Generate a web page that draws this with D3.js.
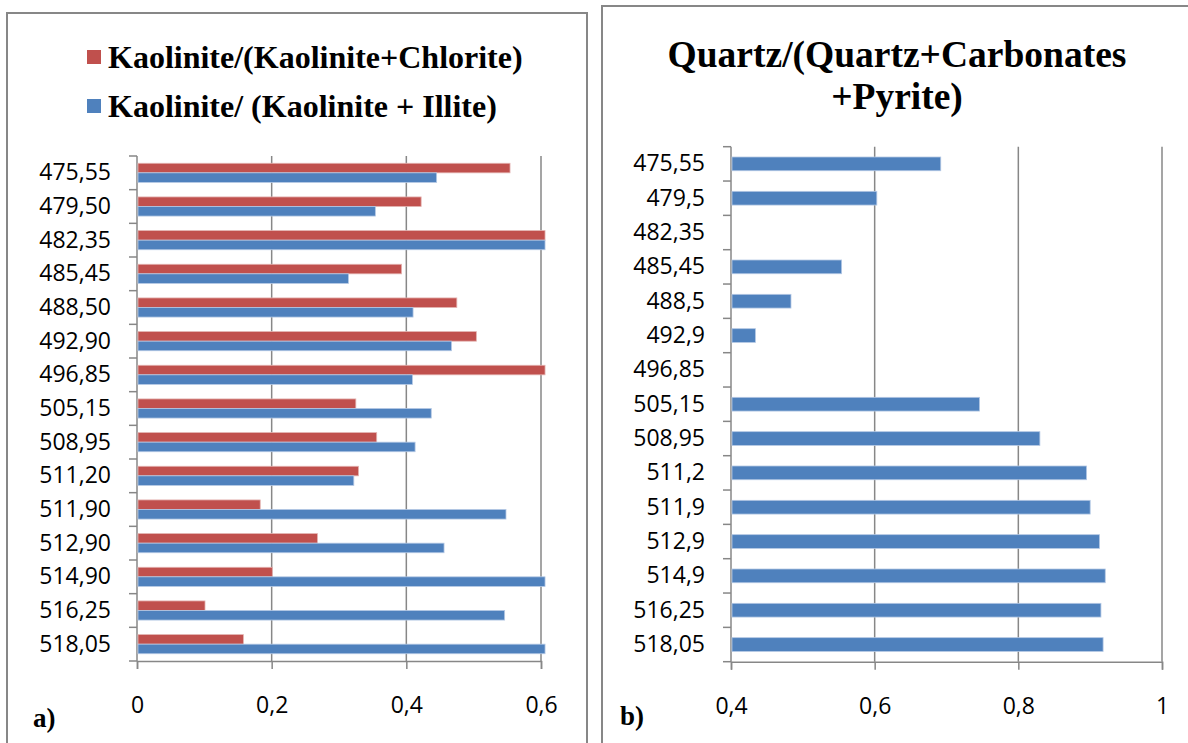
<!DOCTYPE html>
<html>
<head>
<meta charset="utf-8">
<script src="https://cdn.jsdelivr.net/npm/d3@7"></script>
<style>
  body { margin: 0; background: #fff; }
  svg { display: block; }
  .cat text, .val text { font-family: "Open Sans", sans-serif; font-size: 23px; fill: #000; }
  .serif { font-family: "Liberation Serif", "Times New Roman", serif; font-weight: bold; fill: #000; }
</style>
</head>
<body>
<svg id="chart" width="1188" height="743"></svg>
<script>
// panel a) depth labels and the two kaolinite ratios
var depthsA = ["475,55","479,50","482,35","485,45","488,50","492,90","496,85","505,15",
               "508,95","511,20","511,90","512,90","514,90","516,25","518,05"];
var kaolChlorite = [0.554,0.422,0.606,0.393,0.475,0.504,0.606,0.325,0.356,0.329,0.183,0.268,0.201,0.101,0.158];
var kaolIllite   = [0.445,0.354,0.606,0.314,0.410,0.467,0.409,0.437,0.413,0.322,0.548,0.456,0.606,0.546,0.606];
var seriesNames  = ["Kaolinite/(Kaolinite+Chlorite)", "Kaolinite/ (Kaolinite + Illite)"];
var ticksA = [0, 0.2, 0.4, 0.6];

// panel b) quartz ratio, empty where no bar is drawn
var depthsB = ["475,55","479,5","482,35","485,45","488,5","492,9","496,85","505,15",
               "508,95","511,2","511,9","512,9","514,9","516,25","518,05"];
var quartzRatio = [0.692,0.603,null,0.554,0.4835,0.434,null,0.746,0.830,0.895,0.900,0.913,0.921,0.915,0.918];
var titleB = ["Quartz/(Quartz+Carbonates", "+Pyrite)"];
var ticksB = [0.4, 0.6, 0.8, 1];

var RED = "#C0504D", BLUE = "#4F81BD", GRID = "#878787";
var fmt = d3.formatLocale({decimal: ",", thousands: ".", grouping: [3], currency: ["", ""]}).format("");

var svg = d3.select("#chart");

// panel frames
svg.append("rect").attr("x", 7).attr("y", 13).attr("width", 580).attr("height", 760)
  .attr("fill", "none").attr("stroke", GRID).attr("stroke-width", 2);
svg.append("rect").attr("x", 602).attr("y", 6).attr("width", 620).attr("height", 760)
  .attr("fill", "none").attr("stroke", GRID).attr("stroke-width", 2);

function drawFrame(g, x, y, ticks, cats){
  var r = x.range(), yr = y.range();
  // vertical gridlines
  g.selectAll(".grid").data(ticks.slice(1)).join("line")
    .attr("x1", d => x(d)).attr("x2", d => x(d))
    .attr("y1", yr[0]).attr("y2", yr[1])
    .attr("stroke", GRID).attr("stroke-width", 1.5);
  // x axis
  var ax = g.append("g").attr("class", "val").attr("transform", "translate(0," + yr[1] + ")")
    .call(d3.axisBottom(x).tickValues(ticks).tickFormat(fmt).tickSize(8).tickPadding(28));
  ax.select(".domain").attr("stroke", GRID).attr("stroke-width", 1.5);
  ax.selectAll(".tick line").attr("stroke", GRID).attr("stroke-width", 1.5);
  // y axis labels
  var ay = g.append("g").attr("class", "cat").attr("transform", "translate(" + r[0] + ",0)")
    .call(d3.axisLeft(y).tickSize(0).tickPadding(26));
  ay.select(".domain").remove();
  // y axis line and boundary ticks
  g.append("line").attr("x1", r[0]).attr("x2", r[0]).attr("y1", yr[0]).attr("y2", yr[1])
    .attr("stroke", GRID).attr("stroke-width", 1.5);
  var bounds = cats.map(c => y(c)).concat([yr[1]]);
  g.selectAll(".ytick").data(bounds).join("line")
    .attr("x1", r[0] - 8).attr("x2", r[0]).attr("y1", d => d).attr("y2", d => d)
    .attr("stroke", GRID).attr("stroke-width", 1.5);
}

// ---- panel a)
var xA = d3.scaleLinear().domain([0, 0.6]).range([137, 541]);
var yA = d3.scaleBand().domain(depthsA).range([156, 661]);
var sub = d3.scaleBand().domain([0, 1]).range([0, yA.bandwidth()]).paddingOuter(0.76);
var gA = svg.append("g");
drawFrame(gA, xA, yA, ticksA, depthsA);

var rowsA = depthsA.map((d, i) => ({depth: d, vals: [kaolChlorite[i], kaolIllite[i]]}));
gA.selectAll(".row").data(rowsA).join("g")
  .attr("transform", d => "translate(0," + yA(d.depth) + ")")
  .selectAll("rect").data(d => d.vals.map((v, k) => ({v: v, k: k}))).join("rect")
  .attr("x", xA(0) + 1)
  .attr("y", d => sub(d.k))
  .attr("width", d => xA(d.v) - xA(0) - 1)
  .attr("height", sub.bandwidth())
  .attr("fill", d => d.k === 0 ? RED : BLUE)
  .attr("stroke", d => d.k === 0 ? "#e3b3b1" : "#b4c8e4")
  .attr("stroke-width", 0.8);

// legend
var leg = svg.append("g");
seriesNames.forEach(function(name, i){
  var yy = 57 + i * 49;
  leg.append("rect").attr("x", 87).attr("y", yy - 7).attr("width", 14).attr("height", 14)
    .attr("fill", i === 0 ? RED : BLUE);
  leg.append("text").attr("class", "serif").attr("x", 108).attr("y", yy + 11)
    .attr("font-size", 32).text(name);
});
svg.append("text").attr("class", "serif").attr("x", 33).attr("y", 727).attr("font-size", 27).text("a)");

// ---- panel b)
var xB = d3.scaleLinear().domain([0.4, 1]).range([731, 1162]);
var yB = d3.scaleBand().domain(depthsB).range([146.7, 661.7]);
var gB = svg.append("g");
drawFrame(gB, xB, yB, ticksB, depthsB);

var rowsB = depthsB.map((d, i) => ({depth: d, v: quartzRatio[i]})).filter(d => d.v != null);
gB.selectAll(".bar").data(rowsB).join("rect")
  .attr("x", xB(0.4) + 1)
  .attr("y", d => yB(d.depth) + yB.bandwidth() * 0.3)
  .attr("width", d => xB(d.v) - xB(0.4) - 1)
  .attr("height", yB.bandwidth() * 0.4)
  .attr("fill", BLUE)
  .attr("stroke", "#b4c8e4").attr("stroke-width", 0.8);

titleB.forEach(function(t, i){
  svg.append("text").attr("class", "serif").attr("x", 897).attr("y", 67 + i * 42)
    .attr("text-anchor", "middle").attr("font-size", 37.5).text(t);
});
svg.append("text").attr("class", "serif").attr("x", 620).attr("y", 725).attr("font-size", 27).text("b)");
</script>
</body>
</html>
